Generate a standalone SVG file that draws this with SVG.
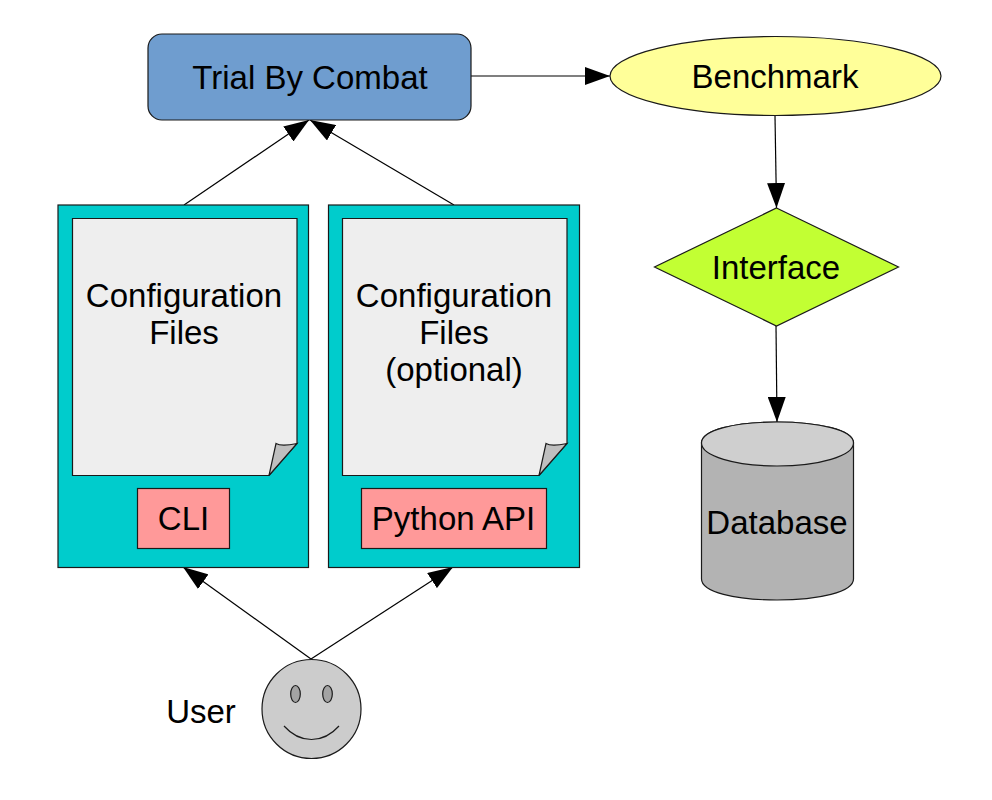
<svg xmlns="http://www.w3.org/2000/svg" width="992" height="800" viewBox="0 0 992 800">
<style>
text{font-family:"Liberation Sans",Arial,sans-serif;font-size:33px;fill:#000;text-anchor:middle}
.s{stroke:#1a1a1a;stroke-width:1.2}
.c{stroke:#000;stroke-width:1.2;fill:none;marker-end:url(#a)}
</style>
<defs><marker id="a" markerUnits="userSpaceOnUse" markerWidth="26" markerHeight="18" refX="25" refY="9" orient="auto"><path d="M0 0L25 9L0 18Z" fill="#000"/></marker></defs>
<rect width="992" height="800" fill="#fff"/>
<g id="connectors">
<path class="c" d="M471 76H610"/>
<path class="c" d="M775 116L776.500 208"/>
<path class="c" d="M776 326L777 422"/>
<path class="c" d="M184 205L309 120"/>
<path class="c" d="M454 205L310 120"/>
<path class="c" d="M311 659L183 567"/>
<path class="c" d="M311 659L453 567"/>
</g>
<g id="trial"><rect class="s" x="148" y="34" width="323" height="86" rx="14" fill="#6f9dcf"/><text x="310" y="88.500">Trial By Combat</text></g>
<g id="benchmark"><ellipse class="s" cx="775.500" cy="76" rx="165.500" ry="39.500" fill="#ffff99"/><text x="775" y="87.500">Benchmark</text></g>
<g id="interface"><path class="s" d="M776.500 208L898.500 267L776.500 326L654.500 267Z" fill="#c2ff33"/><text x="776" y="278.500">Interface</text></g>
<g id="database"><path class="s" d="M701.500 443C701.500 430 735 422 777 422C819 422 853.500 430 853.500 443V579C853.500 592 819 600 777 600C735 600 701.500 592 701.500 579Z" fill="#b3b3b3"/><path class="s" d="M701.500 443C701.500 430 735 422 777 422C819 422 853.500 430 853.500 443C853.500 456 819 466 777 466C735 466 701.500 456 701.500 443Z" fill="#cfcfcf"/><text x="777" y="533.500">Database</text></g>
<g id="cli-panel"><rect class="s" x="58" y="205" width="250.500" height="362.500" fill="#00cccc"/>
<path class="s" d="M72.500 218.500H297V443.500L269 475.500H72.500Z" fill="#eeeeee"/>
<path class="s" d="M269 475.500L276 443.500C280 446 290 445 297 443.500Z" fill="#bfbfbf"/>
<text x="184" y="306.500">Configuration</text><text x="184" y="343.500">Files</text>
<rect class="s" x="137.500" y="488.500" width="92" height="60" fill="#ff9999"/><text x="183.500" y="529.500">CLI</text></g>
<g id="api-panel"><rect class="s" x="328.500" y="205" width="251" height="362.500" fill="#00cccc"/>
<path class="s" d="M342.500 218.500H567V443.500L539 475.500H342.500Z" fill="#eeeeee"/>
<path class="s" d="M539 475.500L546 443.500C550 446 560 445 567 443.500Z" fill="#bfbfbf"/>
<text x="454" y="306.500">Configuration</text><text x="454" y="343.500">Files</text><text x="454" y="380.500">(optional)</text>
<rect class="s" x="361.500" y="488.500" width="185" height="60" fill="#ff9999"/><text x="453.500" y="529.500">Python API</text></g>
<g id="user"><circle class="s" cx="311.500" cy="709" r="49.500" fill="#cccccc"/><ellipse class="s" cx="295.500" cy="694" rx="4.800" ry="8.500" fill="#a3a3a3"/><ellipse class="s" cx="327.500" cy="694" rx="4.800" ry="8.500" fill="#a3a3a3"/><path class="s" d="M284 726C300 744 323 744 339 726" fill="none"/><text x="201" y="722.500">User</text></g>
</svg>
